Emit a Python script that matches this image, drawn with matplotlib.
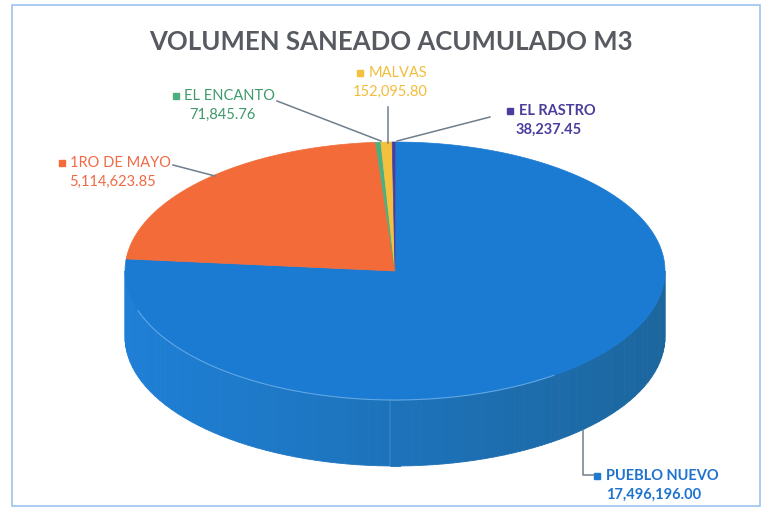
import numpy as np
import matplotlib
matplotlib.use("Agg")
import matplotlib.pyplot as plt
from matplotlib.patches import Rectangle

plt.rcParams['font.family'] = ['Lato', 'DejaVu Sans']

# data, in the order Excel draws them (clockwise from 12 o'clock)
names = ["PUEBLO NUEVO", "1RO DE MAYO", "EL ENCANTO", "MALVAS", "EL RASTRO"]
volumes = [17496196.00, 5114623.85, 71845.76, 152095.80, 38237.45]
colors = ["#1b7bd3", "#f26b38", "#4fae80", "#f4c13f", "#4b3d9e"]
text_colors = ["#1f73cf", "#f06a45", "#3f9a6a", "#f2bd3a", "#4a3e9c"]
bold = [True, False, False, False, True]

# label anchors (pixel coords of the name text centre) and leader lines
label_pos = [(662, 476), (121, 163), (230, 96), (398, 73), (557, 111)]
leaders = [
    [(583, 430), (583, 475), (594, 475)],
    [(173, 165), (215, 176)],
    [(277, 101), (381, 141)],
    [(388, 107), (388, 143)],
    [(490, 117), (397, 141)],
]

W, H = 761, 508
fig = plt.figure(figsize=(W / 100, H / 100), dpi=100)
ax = fig.add_axes([0, 0, 1, 1])
ax.set_xlim(0, W)
ax.set_ylim(H, 0)
ax.axis("off")

# chart border
ax.add_patch(Rectangle((12, 5), W - 13, H - 7, fill=False, ec="#9cc3ec", lw=1.2))

cx, cy, rx, ry, depth = 395, 271, 270, 129, 66


def pt(t):
    return cx + rx * np.cos(t), cy - ry * np.sin(t)


frac = np.array(volumes) / np.sum(volumes)
ends = np.pi / 2 - 2 * np.pi * np.cumsum(frac)
starts = np.concatenate([[np.pi / 2], ends[:-1]])

# side wall (front half only), shaded from left to right
blue_l = np.array([0.12, 0.50, 0.84])
blue_r = np.array([0.11, 0.40, 0.62])
for i in range(len(volumes)):
    lo, hi = max(ends[i], -np.pi), min(starts[i], 0.0)
    if hi <= lo:
        continue
    ts = np.linspace(lo, hi, 80)
    for k in range(len(ts) - 1):
        t = ts[k:k + 2]
        x, y = pt(t)
        xs = [x[0], x[1], x[1], x[0]]
        ys = [y[0], y[1], y[1] + depth, y[0] + depth]
        s = (np.cos(t.mean()) + 1) / 2
        c = blue_l * (1 - s) + blue_r * s if i == 0 else colors[i]
        ax.fill(xs, ys, color=c, lw=0.6, ec=c)

# top surface
for i in range(len(volumes)):
    ts = np.linspace(starts[i], ends[i], 200)
    x, y = pt(ts)
    ax.fill(np.r_[cx, x], np.r_[cy, y], color=colors[i], lw=0.5, ec=colors[i])

# light rim along the front edge
ts = np.linspace(-np.pi * 0.9, -np.pi * 0.3, 100)
x, y = pt(ts)
ax.plot(x, y, color="#8cc4f0", lw=0.8, alpha=0.6)

# leader lines
for pts in leaders:
    xs, ys = zip(*pts)
    ax.plot(xs, ys, color="#6f7d8c", lw=1.1)

# labels
fig.canvas.draw()
rend = fig.canvas.get_renderer()
for i, (x, y) in enumerate(label_pos):
    fw = "bold" if bold[i] else "normal"
    t = ax.text(x, y, names[i], ha="center", va="center", fontsize=10.5,
                color=text_colors[i], fontweight=fw)
    ax.text(x - 8, y + 19, f"{volumes[i]:,.2f}", ha="center", va="center",
            fontsize=10.5, color=text_colors[i], fontweight=fw)
    left = t.get_window_extent(rend).x0
    ax.add_patch(Rectangle((left - 12, y - 3), 6, 6, color=colors[i]))

ax.text(391, 42, "VOLUMEN SANEADO ACUMULADO M3", ha="center", va="center",
        fontsize=18.5, fontweight="bold", color="#575b61")

fig.savefig("out.png", dpi=100)
